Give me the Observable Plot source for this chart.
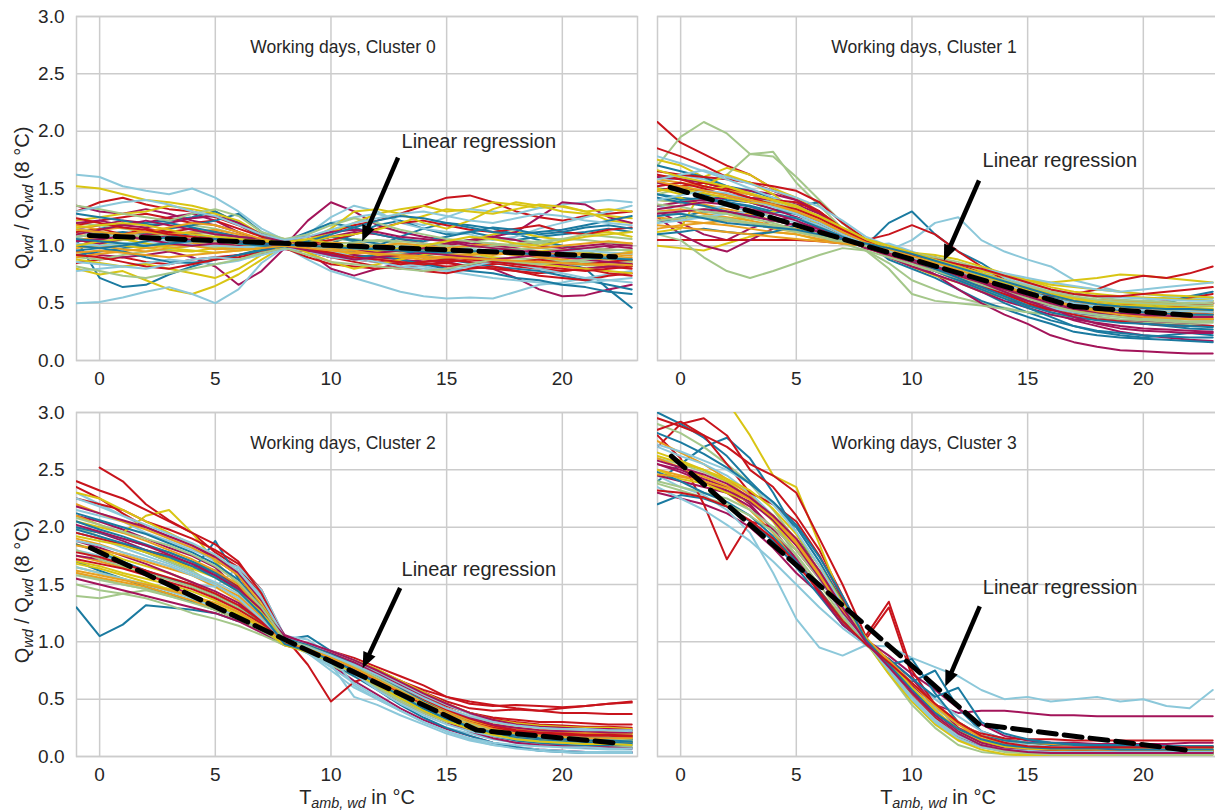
<!DOCTYPE html>
<html>
<head>
<meta charset="utf-8">
<script src="https://cdn.jsdelivr.net/npm/d3@7"></script>
<script src="https://cdn.jsdelivr.net/npm/@observablehq/plot@0.6"></script>
<style>
  html, body { margin: 0; padding: 0; background: #fff; overflow: hidden; width: 1215px; height: 810px; }
  #root { position: relative; width: 1215px; height: 810px; overflow: hidden;
          font-family: "Liberation Sans", Arial, sans-serif; color: #262626; }
  .panel { position: absolute; }
  .ylab { position: absolute; transform: translate(-50%, -50%) rotate(-90deg); white-space: nowrap; font-size: 20px; }
  .xlab { position: absolute; transform: translate(-50%, -50%); white-space: nowrap; font-size: 20px; }
  sub { font-size: 0.72em; font-style: italic; vertical-align: -0.28em; line-height: 0; }
</style>
</head>
<body>
<div id="root"></div>
<script>
// Ambient temperature grid (°C) shared by every daily profile
const temps = [-1, 0, 1, 2, 3, 4, 5, 6, 7, 8, 9, 10, 11, 12, 13, 14, 15, 16, 17, 18, 19, 20, 21, 22, 23];
const xTicks = [0, 5, 10, 15, 20];
const yTicks = [0, 0.5, 1, 1.5, 2, 2.5, 3];
const palette = ["#1a7aa0", "#c8141c", "#a3145a", "#d9c514", "#a4c78a", "#8cc8da", "#e8a020"];

// Normalised heat demand Q_wd / Q_wd(8 °C), one row per building profile
const cluster0 = [
  [1.05,0.72,0.64,0.66,0.75,0.82,0.88,0.92,0.97,1.00,1.03,1.08,1.04,0.98,0.95,0.97,1.02,1.05,0.98,0.93,0.90,0.86,0.80,0.62,0.46],
  [1.30,1.38,1.42,1.36,1.32,1.30,1.25,1.18,1.08,1.04,1.05,1.12,1.18,1.22,1.28,1.35,1.42,1.44,1.38,1.30,1.25,1.22,1.26,1.28,1.30],
  [1.15,1.18,1.22,1.20,1.25,1.28,1.22,1.12,1.05,1.00,1.22,1.38,1.30,1.18,1.12,1.08,1.05,1.02,1.00,0.98,0.95,0.92,0.94,0.98,1.02],
  [1.52,1.50,1.45,1.40,1.38,1.35,1.30,1.20,1.10,1.06,1.05,1.12,1.20,1.28,1.32,1.35,1.30,1.32,1.38,1.36,1.33,1.35,1.30,1.22,1.20],
  [1.00,1.02,1.05,1.08,1.06,1.04,1.02,1.01,1.00,1.00,0.98,0.96,0.95,0.93,0.92,0.90,0.90,0.88,0.87,0.86,0.85,0.84,0.83,0.82,0.82],
  [1.62,1.60,1.52,1.48,1.45,1.50,1.42,1.30,1.15,1.05,1.10,1.20,1.25,1.28,1.22,1.18,1.25,1.32,1.30,1.28,1.33,1.36,1.38,1.40,1.38],
  [1.10,1.12,1.08,1.05,1.10,1.06,1.02,1.00,1.01,1.00,0.98,0.95,0.93,0.95,0.92,0.90,0.88,0.90,0.88,0.86,0.85,0.87,0.84,0.83,0.85],
  [1.12,1.15,1.18,1.20,1.22,1.25,1.30,1.20,1.08,1.02,0.98,1.02,1.10,1.18,1.22,1.15,1.10,1.12,1.08,1.05,1.08,1.10,1.12,1.15,1.12],
  [0.85,0.88,0.90,0.86,0.84,0.88,0.90,0.92,0.95,0.98,0.97,0.92,0.88,0.86,0.85,0.84,0.82,0.83,0.85,0.82,0.80,0.78,0.80,0.82,0.80],
  [0.95,0.92,0.90,0.92,0.95,0.90,0.82,0.66,0.78,0.98,0.95,0.80,0.74,0.80,0.85,0.88,0.86,0.82,0.80,0.72,0.62,0.56,0.57,0.62,0.66],
  [0.80,0.75,0.78,0.70,0.62,0.58,0.65,0.75,0.88,1.00,1.05,0.98,0.92,0.88,0.90,0.95,1.00,1.05,1.10,1.12,1.08,1.05,1.10,1.12,1.08],
  [1.20,1.18,1.15,1.12,1.15,1.18,1.15,1.10,1.05,1.03,1.02,1.05,1.06,1.04,1.02,1.00,1.02,1.04,1.06,1.05,1.03,1.00,0.98,0.97,0.96],
  [0.50,0.51,0.55,0.60,0.64,0.58,0.50,0.62,0.85,0.99,0.88,0.78,0.72,0.66,0.60,0.56,0.54,0.55,0.54,0.60,0.66,0.68,0.72,0.75,0.78],
  [1.05,1.08,1.10,1.12,1.08,1.05,1.04,1.03,1.02,1.00,1.01,1.03,1.02,1.00,0.98,1.00,0.97,0.95,0.96,0.94,0.93,0.95,0.92,0.90,0.92],
  [0.92,0.95,0.98,1.00,1.03,1.05,1.08,1.04,1.02,1.01,1.02,0.98,0.95,1.00,1.08,1.15,1.20,1.18,1.15,1.10,1.05,1.00,0.95,0.90,0.88],
  [1.18,1.22,1.25,1.28,1.24,1.20,1.22,1.15,1.08,1.00,0.95,0.90,0.86,0.82,0.80,0.83,0.85,0.82,0.80,0.78,0.76,0.78,0.80,0.76,0.74],
  [1.35,1.30,1.28,1.32,1.28,1.22,1.18,1.12,1.05,1.02,1.04,1.08,1.12,1.10,1.06,1.02,1.00,1.04,1.08,1.12,1.25,1.38,1.36,1.25,1.20],
  [1.05,1.02,1.00,0.98,0.96,0.95,0.98,1.00,1.02,1.00,1.00,0.98,0.96,0.95,0.97,0.99,0.98,0.96,0.94,0.92,0.95,0.97,0.94,0.92,0.95],
  [0.90,0.88,0.92,0.95,0.97,1.00,0.98,0.96,0.98,0.99,0.99,0.97,0.96,0.94,0.93,0.92,0.93,0.91,0.90,0.89,0.88,0.87,0.86,0.85,0.86],
  [1.12,1.10,1.08,1.06,1.04,1.06,1.08,1.05,1.02,1.01,1.10,1.25,1.35,1.30,1.20,1.15,1.12,1.10,1.05,1.08,1.15,1.20,1.25,1.30,1.35],
  [0.98,1.00,0.97,0.95,0.98,1.00,0.97,0.98,0.99,1.00,0.99,0.98,0.97,0.96,0.95,0.94,0.93,0.92,0.94,0.93,0.91,0.90,0.89,0.88,0.87],
  [1.08,1.10,1.12,1.10,1.15,1.18,1.22,1.28,1.12,1.03,1.02,1.08,1.05,1.02,0.96,0.92,0.88,0.85,0.82,0.80,0.78,0.74,0.70,0.66,0.62],
  [1.00,1.05,1.10,1.15,1.12,1.10,1.12,1.08,1.04,1.00,1.02,1.05,1.10,1.15,1.20,1.22,1.18,1.14,1.12,1.15,1.18,1.12,1.10,1.14,1.16],
  [1.05,1.02,1.06,1.10,1.08,1.05,1.02,1.00,0.98,0.97,0.95,0.90,0.92,0.90,0.88,0.86,0.88,0.90,0.86,0.84,0.85,0.83,0.80,0.82,0.84],
  [1.22,1.25,1.28,1.30,1.35,1.32,1.28,1.22,1.10,1.04,1.05,1.15,1.30,1.32,1.28,1.20,1.15,1.22,1.32,1.38,1.35,1.30,1.28,1.26,1.24],
  [1.08,1.10,1.06,1.02,1.00,1.02,1.04,1.02,1.01,1.00,1.00,0.99,1.00,1.01,1.00,0.98,0.99,1.00,0.98,0.97,0.98,0.96,0.95,0.96,0.97],
  [0.78,0.80,0.82,0.85,0.88,0.86,0.84,0.87,0.93,0.98,0.95,0.90,0.88,0.86,0.84,0.82,0.78,0.75,0.72,0.70,0.68,0.66,0.68,0.70,0.72],
  [0.90,0.93,0.95,0.98,1.00,1.02,1.00,0.99,1.00,1.00,0.98,1.00,0.97,0.95,0.96,0.98,0.95,0.94,0.92,0.94,0.95,0.93,0.90,0.88,0.90],
  [1.00,0.98,0.95,0.90,0.86,0.85,0.88,0.92,0.96,0.99,0.97,0.93,0.90,0.92,0.88,0.84,0.80,0.78,0.76,0.72,0.70,0.66,0.64,0.60,0.58],
  [1.12,1.15,1.10,1.08,1.12,1.15,1.10,1.06,1.03,1.01,0.96,0.94,0.90,0.86,0.84,0.86,0.88,0.86,0.84,0.86,0.88,0.85,0.84,0.86,0.88],
  [1.20,1.22,1.18,1.16,1.20,1.24,1.26,1.20,1.10,1.03,1.02,1.00,0.96,0.94,0.96,0.98,1.02,1.05,1.08,1.05,1.00,0.98,1.00,1.02,1.00],
  [0.88,0.85,0.82,0.84,0.80,0.76,0.72,0.80,0.92,1.00,1.04,1.08,1.10,1.14,1.20,1.26,1.32,1.30,1.28,1.32,1.36,1.34,1.30,1.32,1.30],
  [1.15,1.12,1.10,1.08,1.10,1.12,1.10,1.06,1.03,1.01,0.99,1.01,1.03,1.05,1.04,1.02,1.00,0.98,1.00,1.02,1.04,1.06,1.05,1.03,1.02],
  [1.02,1.00,1.02,1.04,1.03,1.01,1.00,0.99,0.99,1.00,1.00,0.98,0.97,0.98,0.99,1.00,0.98,0.97,0.96,0.95,0.94,0.95,0.96,0.94,0.93],
  [1.18,1.14,1.16,1.12,1.10,1.12,1.14,1.10,1.05,1.02,0.98,0.96,0.98,1.00,1.02,1.00,0.98,1.00,1.02,1.00,0.98,1.00,1.02,1.04,1.02],
  [1.28,1.25,1.22,1.18,1.20,1.16,1.12,1.08,1.06,1.04,1.12,1.20,1.16,1.10,1.06,1.04,1.08,1.12,1.16,1.14,1.10,1.12,1.16,1.18,1.15],
  [0.92,0.90,0.86,0.82,0.80,0.84,0.88,0.90,0.94,0.98,0.90,0.84,0.82,0.80,0.82,0.78,0.76,0.80,0.82,0.78,0.74,0.72,0.70,0.74,0.76],
  [1.10,1.14,1.18,1.22,1.18,1.14,1.10,1.08,1.06,1.05,1.08,1.12,1.14,1.12,1.08,1.06,1.04,1.00,0.98,0.96,0.94,0.96,0.98,1.00,0.98],
  [1.00,1.04,1.06,1.02,0.98,0.96,0.94,0.96,0.98,1.02,0.94,0.86,0.80,0.84,0.88,0.92,0.96,0.94,0.90,0.86,0.84,0.82,0.80,0.78,0.76],
  [1.35,1.32,1.28,1.25,1.22,1.28,1.32,1.26,1.12,1.06,1.10,1.18,1.24,1.20,1.14,1.10,1.06,1.04,1.02,1.00,1.02,1.06,1.10,1.08,1.06],
  [0.86,0.84,0.82,0.80,0.84,0.88,0.90,0.88,0.92,0.97,1.00,0.96,0.90,0.86,0.82,0.80,0.78,0.82,0.86,0.84,0.80,0.76,0.72,0.70,0.68],
  [1.14,1.12,1.10,1.12,1.16,1.20,1.18,1.12,1.06,1.02,1.00,0.98,0.96,0.92,0.90,0.88,0.90,0.92,0.94,0.92,0.90,0.88,0.90,0.92,0.94],
  [0.96,0.98,1.00,1.04,1.08,1.10,1.06,1.02,1.00,0.99,1.04,1.10,1.16,1.22,1.26,1.24,1.20,1.16,1.12,1.10,1.12,1.14,1.18,1.22,1.26],
  [1.24,1.20,1.16,1.14,1.10,1.08,1.06,1.04,1.03,1.02,0.98,0.94,0.90,0.88,0.86,0.84,0.86,0.88,0.86,0.84,0.82,0.80,0.78,0.80,0.82],
  [1.04,1.06,1.08,1.06,1.02,1.00,1.02,1.04,1.02,1.00,0.96,0.92,0.88,0.90,0.92,0.94,0.92,0.90,0.88,0.90,0.92,0.90,0.88,0.86,0.84],
  [1.16,1.18,1.20,1.18,1.14,1.10,1.08,1.06,1.04,1.03,1.06,1.02,0.98,0.96,0.98,1.00,1.04,1.08,1.06,1.02,1.00,1.04,1.08,1.10,1.12],
  [0.82,0.78,0.74,0.72,0.76,0.80,0.84,0.88,0.94,0.98,0.92,0.86,0.84,0.82,0.80,0.78,0.80,0.84,0.88,0.86,0.84,0.86,0.88,0.90,0.88],
  [1.30,1.34,1.38,1.40,1.36,1.30,1.26,1.18,1.10,1.05,1.08,1.14,1.20,1.24,1.28,1.30,1.26,1.22,1.20,1.24,1.28,1.26,1.22,1.20,1.18],
  [0.94,0.96,0.94,0.92,0.90,0.92,0.94,0.96,0.98,1.00,0.98,0.96,0.94,0.93,0.92,0.91,0.90,0.89,0.88,0.87,0.86,0.85,0.84,0.84,0.83],
  [1.06,1.04,1.02,1.00,1.02,1.04,1.06,1.04,1.02,1.01,1.00,0.99,0.98,0.97,0.96,0.95,0.94,0.95,0.96,0.94,0.92,0.91,0.90,0.89,0.88]
];

const cluster1 = [
  [1.45,1.42,1.40,1.38,1.35,1.30,1.28,1.20,1.10,1.00,1.20,1.30,1.10,0.95,0.85,0.72,0.62,0.50,0.42,0.38,0.35,0.32,0.30,0.28,0.27],
  [2.08,1.90,1.80,1.70,1.62,1.50,1.40,1.28,1.12,1.03,0.92,0.85,0.78,0.70,0.62,0.55,0.48,0.44,0.42,0.40,0.42,0.40,0.38,0.40,0.42],
  [1.30,1.20,1.10,1.05,1.15,1.22,1.25,1.18,1.08,0.98,0.95,0.88,0.80,0.72,0.65,0.58,0.50,0.42,0.35,0.30,0.25,0.22,0.20,0.18,0.17],
  [1.00,0.98,0.96,1.02,1.08,1.12,1.10,1.05,1.02,1.00,0.98,0.90,0.85,0.80,0.72,0.66,0.60,0.58,0.55,0.52,0.50,0.52,0.55,0.54,0.52],
  [1.70,1.95,2.08,1.98,1.80,1.82,1.55,1.35,1.15,0.96,0.85,0.70,0.62,0.55,0.50,0.46,0.42,0.40,0.38,0.36,0.35,0.33,0.32,0.30,0.30],
  [1.55,1.60,1.55,1.50,1.42,1.38,1.30,1.20,1.10,1.02,0.96,1.05,1.20,1.25,1.05,0.95,0.88,0.82,0.70,0.65,0.60,0.58,0.56,0.55,0.54],
  [1.40,1.38,1.36,1.32,1.28,1.22,1.18,1.12,1.05,1.00,0.95,0.90,0.82,0.75,0.68,0.62,0.55,0.50,0.48,0.46,0.44,0.42,0.43,0.42,0.41],
  [1.20,1.25,1.30,1.28,1.25,1.30,1.35,1.38,1.20,1.04,0.88,0.80,0.72,0.62,0.52,0.45,0.38,0.32,0.25,0.22,0.20,0.19,0.18,0.17,0.16],
  [1.05,1.05,1.05,1.05,1.05,1.05,1.05,1.04,1.02,1.00,0.92,0.86,0.80,0.72,0.64,0.56,0.50,0.46,0.44,0.42,0.40,0.38,0.37,0.36,0.36],
  [1.25,1.10,1.00,0.95,1.05,1.15,1.20,1.15,1.08,0.98,0.92,0.85,0.75,0.62,0.50,0.40,0.32,0.22,0.16,0.12,0.09,0.08,0.07,0.06,0.06],
  [1.75,1.70,1.60,1.68,1.62,1.50,1.42,1.30,1.15,1.02,0.92,0.88,0.84,0.80,0.76,0.72,0.70,0.68,0.70,0.72,0.75,0.74,0.72,0.70,0.68],
  [1.45,1.50,1.55,1.62,1.80,1.78,1.60,1.40,1.20,1.04,0.90,0.82,0.78,0.72,0.68,0.64,0.60,0.58,0.55,0.52,0.50,0.48,0.47,0.46,0.45],
  [1.60,1.62,1.58,1.52,1.45,1.38,1.28,1.15,1.05,1.00,1.02,0.95,0.88,0.82,0.78,0.72,0.66,0.60,0.55,0.52,0.50,0.52,0.54,0.56,0.55],
  [1.15,1.18,1.20,1.22,1.20,1.15,1.12,1.08,1.04,1.00,0.94,0.88,0.82,0.76,0.70,0.64,0.58,0.54,0.50,0.48,0.47,0.46,0.45,0.44,0.44],
  [1.70,1.65,1.60,1.52,1.48,1.42,1.35,1.25,1.12,1.01,0.95,0.88,0.80,0.70,0.60,0.50,0.42,0.35,0.30,0.26,0.24,0.22,0.21,0.20,0.20],
  [1.85,1.78,1.70,1.60,1.55,1.48,1.40,1.30,1.15,1.05,1.10,1.18,1.10,0.95,0.82,0.70,0.62,0.56,0.52,0.50,0.48,0.50,0.52,0.55,0.58],
  [1.60,1.58,1.55,1.50,1.48,1.45,1.40,1.30,1.12,1.00,0.95,0.90,0.85,0.78,0.70,0.62,0.55,0.48,0.42,0.38,0.35,0.34,0.33,0.32,0.30],
  [1.40,1.42,1.35,1.28,1.22,1.30,1.35,1.20,1.08,0.99,0.92,0.82,0.74,0.68,0.60,0.55,0.50,0.46,0.44,0.42,0.40,0.39,0.38,0.38,0.37],
  [1.10,1.05,0.90,0.78,0.72,0.78,0.85,0.92,0.98,0.96,0.80,0.58,0.52,0.50,0.48,0.45,0.42,0.40,0.38,0.36,0.34,0.33,0.32,0.31,0.30],
  [1.35,1.30,1.32,1.35,1.30,1.25,1.20,1.12,1.05,1.00,0.96,0.92,0.86,0.80,0.74,0.68,0.62,0.56,0.50,0.45,0.42,0.40,0.38,0.36,0.35],
  [1.30,1.32,1.28,1.25,1.22,1.18,1.15,1.10,1.05,1.01,0.96,0.90,0.84,0.78,0.72,0.66,0.60,0.56,0.52,0.50,0.48,0.47,0.46,0.45,0.44],
  [1.50,1.48,1.45,1.40,1.38,1.32,1.28,1.20,1.10,1.00,0.94,0.88,0.82,0.75,0.68,0.60,0.52,0.46,0.42,0.40,0.42,0.45,0.50,0.56,0.60],
  [1.65,1.62,1.60,1.58,1.55,1.52,1.48,1.38,1.20,1.06,0.92,0.86,0.80,0.74,0.68,0.62,0.58,0.56,0.58,0.62,0.70,0.74,0.72,0.76,0.82],
  [1.55,1.50,1.48,1.45,1.42,1.40,1.36,1.28,1.15,1.00,0.90,0.82,0.75,0.68,0.60,0.52,0.46,0.40,0.36,0.33,0.30,0.28,0.27,0.26,0.25],
  [1.12,1.15,1.52,1.62,1.55,1.45,1.30,1.18,1.08,1.02,0.95,0.90,0.86,0.82,0.78,0.74,0.70,0.66,0.64,0.62,0.60,0.58,0.57,0.56,0.55],
  [1.40,1.38,1.42,1.45,1.40,1.38,1.32,1.22,1.10,1.00,0.94,0.86,0.78,0.70,0.62,0.56,0.50,0.45,0.40,0.38,0.36,0.35,0.34,0.33,0.33],
  [1.78,1.72,1.65,1.58,1.50,1.42,1.35,1.25,1.12,1.03,0.94,0.85,0.78,0.72,0.65,0.58,0.52,0.46,0.42,0.40,0.38,0.37,0.36,0.36,0.35],
  [1.25,1.22,1.20,1.18,1.15,1.12,1.10,1.06,1.03,1.00,0.96,0.92,0.86,0.80,0.74,0.68,0.62,0.58,0.55,0.53,0.52,0.51,0.50,0.50,0.49],
  [1.10,1.12,1.15,1.12,1.10,1.12,1.18,1.12,1.05,0.99,0.94,0.86,0.78,0.70,0.62,0.54,0.46,0.38,0.30,0.25,0.22,0.20,0.22,0.24,0.22],
  [1.48,1.52,1.55,1.50,1.45,1.40,1.38,1.30,1.15,1.02,0.98,0.94,0.90,0.84,0.76,0.68,0.60,0.54,0.50,0.48,0.46,0.45,0.46,0.48,0.50],
  [1.35,1.38,1.40,1.42,1.38,1.32,1.25,1.15,1.06,1.00,0.94,0.88,0.80,0.72,0.65,0.58,0.52,0.48,0.45,0.42,0.40,0.38,0.40,0.42,0.40],
  [1.50,1.45,1.48,1.52,1.45,1.40,1.35,1.25,1.10,1.01,0.96,0.94,0.92,0.88,0.82,0.76,0.70,0.64,0.60,0.58,0.56,0.55,0.54,0.53,0.52],
  [1.30,1.28,1.25,1.22,1.20,1.18,1.14,1.10,1.04,1.00,0.98,0.94,0.90,0.86,0.80,0.74,0.68,0.62,0.58,0.55,0.53,0.52,0.51,0.50,0.50],
  [1.20,1.22,1.25,1.28,1.30,1.28,1.24,1.18,1.08,1.02,0.97,0.93,0.88,0.84,0.80,0.76,0.72,0.68,0.65,0.62,0.60,0.62,0.64,0.66,0.68],
  [1.58,1.55,1.52,1.48,1.45,1.40,1.34,1.24,1.12,1.00,0.94,0.86,0.80,0.74,0.68,0.62,0.56,0.52,0.48,0.45,0.43,0.42,0.41,0.40,0.40],
  [1.42,1.38,1.35,1.30,1.26,1.22,1.18,1.12,1.06,1.02,0.96,0.90,0.84,0.78,0.72,0.66,0.60,0.55,0.50,0.46,0.44,0.42,0.41,0.40,0.40],
  [1.62,1.58,1.52,1.48,1.42,1.36,1.30,1.20,1.10,1.04,0.98,0.90,0.82,0.74,0.66,0.58,0.50,0.44,0.40,0.36,0.34,0.32,0.31,0.30,0.30],
  [1.28,1.30,1.32,1.30,1.26,1.22,1.18,1.12,1.06,0.98,0.92,0.86,0.80,0.74,0.68,0.62,0.56,0.50,0.46,0.43,0.41,0.40,0.39,0.38,0.38],
  [1.48,1.50,1.46,1.42,1.38,1.35,1.30,1.22,1.12,1.05,0.98,0.92,0.86,0.80,0.74,0.68,0.62,0.58,0.54,0.52,0.50,0.49,0.48,0.48,0.47],
  [1.36,1.34,1.30,1.28,1.24,1.20,1.14,1.08,1.02,0.96,0.90,0.84,0.78,0.72,0.66,0.60,0.54,0.48,0.43,0.40,0.38,0.36,0.35,0.34,0.34],
  [1.58,1.62,1.66,1.60,1.54,1.48,1.42,1.34,1.22,1.08,1.00,0.94,0.88,0.82,0.76,0.70,0.64,0.60,0.58,0.56,0.55,0.54,0.53,0.52,0.52],
  [1.18,1.16,1.14,1.12,1.10,1.08,1.06,1.04,1.02,1.00,0.98,0.94,0.88,0.82,0.76,0.70,0.64,0.58,0.52,0.48,0.46,0.44,0.43,0.42,0.42],
  [1.45,1.40,1.42,1.38,1.34,1.28,1.24,1.16,1.08,1.02,0.96,0.88,0.80,0.72,0.64,0.56,0.48,0.42,0.38,0.35,0.33,0.32,0.31,0.30,0.29],
  [1.52,1.55,1.50,1.44,1.40,1.36,1.32,1.24,1.14,1.04,0.96,0.92,0.88,0.84,0.80,0.74,0.68,0.62,0.58,0.56,0.56,0.58,0.60,0.62,0.64],
  [1.32,1.35,1.38,1.36,1.32,1.28,1.22,1.14,1.06,1.00,0.94,0.88,0.82,0.76,0.68,0.60,0.52,0.45,0.38,0.32,0.28,0.26,0.25,0.24,0.24],
  [1.66,1.60,1.56,1.52,1.46,1.40,1.34,1.26,1.16,1.06,1.00,0.94,0.88,0.82,0.76,0.70,0.64,0.58,0.54,0.50,0.48,0.47,0.46,0.46,0.45],
  [1.22,1.24,1.26,1.24,1.20,1.16,1.12,1.08,1.04,1.00,0.95,0.90,0.85,0.80,0.75,0.70,0.65,0.60,0.56,0.53,0.51,0.50,0.49,0.48,0.48],
  [1.40,1.44,1.48,1.46,1.40,1.34,1.28,1.20,1.10,1.02,0.96,0.90,0.84,0.78,0.72,0.66,0.60,0.54,0.50,0.47,0.45,0.44,0.43,0.43,0.42],
  [1.56,1.52,1.48,1.44,1.40,1.36,1.30,1.22,1.12,1.03,0.97,0.91,0.85,0.79,0.72,0.65,0.58,0.52,0.47,0.43,0.40,0.38,0.37,0.36,0.36],
  [1.26,1.28,1.24,1.20,1.18,1.16,1.14,1.10,1.06,1.02,0.98,0.93,0.87,0.81,0.75,0.69,0.63,0.57,0.52,0.49,0.47,0.46,0.45,0.45,0.44]
];

const cluster2 = [
  [1.30,1.05,1.15,1.32,1.30,1.28,1.25,1.18,1.10,1.00,0.92,0.84,0.74,0.62,0.52,0.42,0.32,0.24,0.18,0.14,0.12,0.10,0.09,0.08,0.08],
  [null,2.52,2.40,2.20,2.06,1.95,1.78,1.65,1.40,1.04,0.98,0.90,0.82,0.75,0.66,0.56,0.48,0.42,0.40,0.41,0.40,0.42,0.44,0.46,0.48],
  [2.10,2.05,1.98,1.90,1.82,1.75,1.65,1.45,1.25,1.02,0.92,0.82,0.72,0.60,0.48,0.38,0.30,0.24,0.20,0.18,0.17,0.16,0.15,0.15,0.14],
  [1.85,1.80,1.72,1.66,1.60,1.52,1.42,1.30,1.18,1.00,0.95,0.88,0.78,0.66,0.55,0.44,0.35,0.28,0.22,0.20,0.18,0.17,0.16,0.15,0.15],
  [1.40,1.38,1.42,1.45,1.40,1.35,1.28,1.20,1.10,0.98,0.94,0.86,0.76,0.64,0.52,0.40,0.30,0.22,0.16,0.12,0.10,0.09,0.08,0.08,0.08],
  [2.30,2.20,2.10,2.00,1.90,1.82,1.70,1.62,1.40,1.03,0.90,0.75,0.60,0.50,0.40,0.32,0.25,0.20,0.15,0.12,0.10,0.08,0.07,0.06,0.06],
  [1.75,1.70,1.65,1.60,1.55,1.48,1.40,1.30,1.15,1.00,0.94,0.86,0.78,0.68,0.58,0.48,0.40,0.32,0.26,0.22,0.20,0.19,0.18,0.18,0.17],
  [1.95,1.90,1.85,1.78,1.70,1.62,1.88,1.55,1.20,1.02,1.05,0.92,0.80,0.68,0.55,0.42,0.32,0.24,0.18,0.14,0.12,0.11,0.10,0.10,0.10],
  [2.35,2.25,2.12,2.00,1.92,1.85,1.72,1.58,1.30,1.01,0.95,0.90,0.82,0.72,0.62,0.52,0.44,0.38,0.34,0.32,0.30,0.30,0.29,0.28,0.28],
  [1.55,1.50,1.45,1.40,1.35,1.30,1.25,1.18,1.08,0.97,0.92,0.80,0.66,0.54,0.42,0.32,0.24,0.18,0.12,0.08,0.06,0.05,0.04,0.04,0.04],
  [2.05,2.00,1.95,2.10,2.15,1.95,1.70,1.50,1.25,1.00,0.95,0.88,0.80,0.70,0.58,0.48,0.38,0.30,0.25,0.22,0.20,0.19,0.18,0.18,0.17],
  [1.60,1.55,1.50,1.46,1.42,1.36,1.30,1.22,1.12,0.99,0.90,0.80,0.70,0.60,0.50,0.40,0.32,0.26,0.22,0.20,0.18,0.17,0.16,0.16,0.15],
  [2.15,2.10,2.05,1.95,1.88,1.80,1.72,1.65,1.45,1.02,0.92,0.80,0.52,0.45,0.36,0.28,0.20,0.14,0.10,0.08,0.06,0.05,0.04,0.04,0.04],
  [1.90,1.85,1.78,1.72,1.66,1.58,1.48,1.36,1.20,1.00,0.96,0.90,0.82,0.72,0.62,0.52,0.42,0.34,0.28,0.24,0.22,0.21,0.20,0.20,0.19],
  [1.70,1.62,1.55,1.48,1.42,1.35,1.28,1.20,1.10,0.98,0.92,0.82,0.70,0.58,0.45,0.34,0.25,0.18,0.12,0.08,0.05,0.04,0.03,0.03,0.03],
  [2.25,2.20,2.15,2.05,1.98,1.90,1.80,1.68,1.45,1.04,0.80,0.48,0.65,0.72,0.66,0.58,0.52,0.48,0.45,0.42,0.40,0.38,0.38,0.37,0.37],
  [2.00,1.95,1.88,1.80,1.72,1.66,1.58,1.45,1.25,1.01,0.94,0.86,0.76,0.64,0.52,0.40,0.30,0.22,0.16,0.12,0.10,0.09,0.08,0.08,0.07],
  [1.65,1.60,1.55,1.50,1.46,1.40,1.32,1.24,1.12,1.00,0.94,0.88,0.80,0.70,0.60,0.50,0.42,0.35,0.30,0.27,0.25,0.24,0.23,0.22,0.22],
  [2.00,1.92,1.85,1.78,1.70,1.62,1.50,1.38,1.20,0.99,0.92,0.82,0.72,0.60,0.48,0.38,0.30,0.26,0.24,0.23,0.22,0.22,0.21,0.21,0.20],
  [1.80,1.75,1.70,1.62,1.55,1.50,1.48,1.65,1.45,1.05,1.02,0.88,0.62,0.50,0.40,0.30,0.22,0.15,0.10,0.07,0.05,0.04,0.03,0.03,0.03],
  [2.20,2.12,2.05,1.98,1.90,1.82,1.72,1.58,1.32,1.02,0.94,0.84,0.74,0.64,0.54,0.44,0.36,0.30,0.26,0.24,0.23,0.22,0.22,0.21,0.21],
  [1.85,1.78,1.70,1.62,1.55,1.48,1.40,1.30,1.16,1.00,0.95,0.88,0.80,0.70,0.58,0.46,0.36,0.28,0.24,0.22,0.20,0.19,0.18,0.18,0.18],
  [2.40,2.32,2.25,2.15,2.05,1.95,1.85,1.70,1.42,1.03,0.96,0.92,0.86,0.78,0.70,0.62,0.52,0.46,0.44,0.45,0.44,0.43,0.44,0.46,0.47],
  [1.75,1.72,1.68,1.62,1.50,1.40,1.30,1.22,1.12,0.98,0.94,0.86,0.76,0.66,0.55,0.44,0.34,0.26,0.20,0.16,0.14,0.13,0.12,0.12,0.12],
  [2.30,2.25,2.15,2.05,1.95,1.85,1.75,1.60,1.35,1.02,0.96,0.90,0.84,0.76,0.66,0.56,0.46,0.38,0.32,0.28,0.26,0.25,0.24,0.24,0.23],
  [1.50,1.45,1.42,1.38,1.32,1.25,1.20,1.14,1.06,0.97,0.94,0.84,0.74,0.62,0.50,0.40,0.32,0.26,0.22,0.20,0.19,0.18,0.17,0.17,0.16],
  [1.95,1.90,1.82,1.75,1.68,1.60,1.52,1.42,1.22,1.00,0.90,0.78,0.64,0.52,0.40,0.30,0.22,0.16,0.12,0.10,0.09,0.08,0.08,0.07,0.07],
  [1.60,1.56,1.52,1.48,1.42,1.36,1.28,1.20,1.10,1.00,0.94,0.86,0.78,0.68,0.58,0.48,0.40,0.33,0.28,0.25,0.23,0.22,0.21,0.21,0.20],
  [2.05,1.98,1.92,1.85,1.78,1.70,1.62,1.48,1.26,1.01,0.94,0.86,0.78,0.68,0.56,0.44,0.34,0.26,0.20,0.16,0.14,0.13,0.12,0.12,0.11],
  [1.95,1.90,1.85,1.80,1.75,1.68,1.60,1.48,1.25,1.00,0.95,0.90,0.82,0.74,0.64,0.54,0.45,0.38,0.33,0.30,0.28,0.27,0.26,0.26,0.25],
  [1.88,1.82,1.75,1.68,1.60,1.52,1.44,1.34,1.18,1.00,0.93,0.85,0.75,0.64,0.53,0.42,0.33,0.26,0.21,0.18,0.16,0.15,0.14,0.14,0.13],
  [1.70,1.66,1.60,1.55,1.50,1.44,1.36,1.26,1.14,1.01,0.95,0.90,0.84,0.76,0.66,0.56,0.46,0.38,0.32,0.29,0.27,0.26,0.25,0.25,0.24],
  [1.80,1.72,1.66,1.60,1.54,1.48,1.40,1.30,1.15,0.99,0.93,0.85,0.75,0.64,0.52,0.41,0.32,0.25,0.20,0.17,0.15,0.14,0.14,0.13,0.13],
  [1.65,1.60,1.55,1.50,1.44,1.38,1.30,1.22,1.12,1.00,0.92,0.82,0.72,0.58,0.46,0.36,0.28,0.22,0.18,0.15,0.13,0.12,0.11,0.11,0.10],
  [2.10,2.02,1.95,1.88,1.80,1.72,1.62,1.50,1.28,1.02,0.95,0.88,0.80,0.70,0.60,0.50,0.40,0.32,0.27,0.24,0.22,0.21,0.20,0.20,0.20],
  [2.00,1.95,1.90,1.84,1.78,1.70,1.60,1.46,1.24,1.02,0.96,0.88,0.78,0.66,0.54,0.42,0.32,0.25,0.20,0.17,0.15,0.14,0.13,0.13,0.12],
  [1.78,1.74,1.68,1.62,1.56,1.50,1.42,1.32,1.18,1.04,0.96,0.88,0.80,0.70,0.60,0.50,0.41,0.33,0.27,0.23,0.21,0.20,0.19,0.19,0.18],
  [2.18,2.12,2.06,2.00,1.92,1.84,1.74,1.60,1.36,1.06,0.98,0.90,0.82,0.72,0.62,0.52,0.42,0.34,0.28,0.25,0.23,0.22,0.22,0.21,0.21],
  [1.92,1.88,1.84,1.78,1.72,1.64,1.56,1.44,1.26,1.02,0.94,0.86,0.76,0.65,0.54,0.43,0.34,0.27,0.22,0.19,0.17,0.16,0.15,0.15,0.15],
  [1.58,1.54,1.50,1.46,1.40,1.34,1.28,1.20,1.10,0.98,0.92,0.84,0.75,0.64,0.53,0.43,0.34,0.27,0.22,0.19,0.17,0.16,0.15,0.15,0.14],
  [2.25,2.18,2.10,2.02,1.94,1.86,1.76,1.62,1.38,1.04,0.98,0.92,0.84,0.74,0.64,0.54,0.45,0.37,0.31,0.27,0.25,0.24,0.23,0.23,0.22],
  [1.84,1.80,1.76,1.70,1.64,1.58,1.50,1.40,1.22,1.00,0.95,0.87,0.78,0.67,0.56,0.45,0.36,0.28,0.22,0.18,0.16,0.15,0.14,0.14,0.13],
  [2.12,2.06,2.00,1.94,1.86,1.78,1.68,1.54,1.30,1.03,0.97,0.89,0.80,0.70,0.59,0.48,0.38,0.30,0.24,0.20,0.18,0.17,0.16,0.16,0.15],
  [1.72,1.68,1.64,1.58,1.52,1.46,1.38,1.28,1.16,0.99,0.93,0.85,0.76,0.66,0.56,0.46,0.37,0.30,0.25,0.22,0.20,0.19,0.18,0.18,0.17],
  [2.02,1.96,1.90,1.84,1.76,1.68,1.58,1.46,1.28,1.05,0.99,0.92,0.84,0.75,0.65,0.55,0.46,0.38,0.32,0.28,0.26,0.25,0.24,0.24,0.23],
  [1.68,1.64,1.58,1.52,1.46,1.40,1.32,1.24,1.12,0.97,0.91,0.83,0.73,0.62,0.51,0.40,0.31,0.24,0.19,0.15,0.13,0.12,0.11,0.11,0.10],
  [2.08,2.02,1.96,1.90,1.84,1.76,1.66,1.52,1.30,1.02,0.96,0.88,0.79,0.69,0.58,0.47,0.37,0.29,0.23,0.19,0.17,0.16,0.15,0.15,0.14],
  [1.88,1.84,1.78,1.72,1.66,1.58,1.50,1.38,1.20,1.01,0.95,0.88,0.80,0.71,0.61,0.51,0.42,0.35,0.30,0.27,0.25,0.24,0.24,0.23,0.23],
  [1.62,1.58,1.54,1.50,1.45,1.40,1.34,1.26,1.14,1.00,0.94,0.86,0.77,0.67,0.57,0.47,0.38,0.30,0.24,0.20,0.18,0.17,0.16,0.16,0.16],
  [1.98,1.92,1.86,1.80,1.74,1.66,1.56,1.44,1.24,0.98,0.92,0.84,0.75,0.64,0.53,0.42,0.33,0.26,0.21,0.18,0.16,0.15,0.14,0.14,0.13]
];

const cluster3 = [
  [2.40,2.55,2.70,2.78,2.60,2.30,1.95,1.60,1.25,1.00,0.78,0.52,0.30,0.16,0.10,0.08,0.07,0.06,0.06,0.05,0.05,0.05,0.05,0.04,0.04],
  [2.70,2.90,2.95,2.80,2.50,2.35,2.10,1.80,1.40,1.02,1.30,0.70,0.40,0.22,0.12,0.08,0.06,0.05,0.05,0.04,0.04,0.04,0.04,0.04,0.04],
  [2.30,2.25,2.20,2.12,2.00,1.82,1.60,1.42,1.20,0.98,0.80,0.62,0.45,0.38,0.40,0.40,0.38,0.36,0.36,0.35,0.35,0.35,0.35,0.35,0.35],
  [null,null,3.30,3.10,2.80,2.45,2.35,1.85,1.35,1.02,0.82,0.60,0.40,0.22,0.12,0.05,0.02,0.01,0.00,0.00,0.00,0.00,0.00,0.00,0.00],
  [2.60,2.55,2.48,2.40,2.30,2.05,1.75,1.45,1.20,1.00,0.72,0.45,0.25,0.10,0.04,0.02,0.01,0.00,0.00,0.00,0.00,0.00,0.00,0.00,0.00],
  [2.45,2.35,2.28,2.15,1.95,1.60,1.20,0.95,0.88,0.97,0.96,0.86,0.78,0.70,0.58,0.50,0.52,0.48,0.50,0.52,0.48,0.50,0.44,0.42,0.58],
  [2.50,2.45,2.40,2.30,2.15,1.95,1.70,1.45,1.20,1.01,0.78,0.52,0.30,0.15,0.08,0.05,0.04,0.03,0.03,0.03,0.02,0.02,0.02,0.02,0.02],
  [2.20,2.28,2.25,2.18,2.05,1.88,1.65,1.40,1.15,0.99,0.82,0.65,0.75,0.42,0.22,0.15,0.12,0.10,0.10,0.09,0.09,0.08,0.08,0.08,0.08],
  [2.80,2.60,2.20,1.72,2.05,2.00,1.80,1.55,1.25,1.00,0.80,0.58,0.35,0.20,0.12,0.08,0.06,0.05,0.05,0.05,0.05,0.05,0.05,0.05,0.05],
  [2.55,2.50,2.42,2.35,2.20,1.98,1.72,1.45,1.18,1.02,0.88,0.72,0.58,0.42,0.28,0.18,0.14,0.12,0.12,0.11,0.11,0.11,0.11,0.12,0.12],
  [2.65,2.58,2.50,2.40,2.25,2.05,1.80,1.62,1.30,1.03,0.80,0.58,0.36,0.20,0.12,0.08,0.06,0.05,0.04,0.04,0.04,0.04,0.04,0.03,0.03],
  [2.90,2.82,2.70,2.55,2.38,2.15,1.88,1.62,1.30,1.00,0.75,0.50,0.30,0.16,0.08,0.04,0.03,0.02,0.02,0.02,0.02,0.02,0.02,0.02,0.02],
  [2.35,2.25,2.15,2.02,1.88,1.70,1.50,1.30,1.12,0.97,0.85,0.68,0.50,0.35,0.22,0.14,0.10,0.08,0.07,0.06,0.06,0.06,0.06,0.06,0.06],
  [2.75,2.65,2.55,2.42,2.28,2.10,1.85,1.58,1.28,1.00,0.76,0.55,0.38,0.25,0.18,0.14,0.12,0.11,0.10,0.10,0.10,0.10,0.09,0.09,0.09],
  [3.00,2.90,2.78,2.62,2.40,2.20,2.00,1.70,1.35,1.04,0.80,0.85,0.55,0.30,0.18,0.14,0.12,0.12,0.11,0.10,0.10,0.09,0.09,0.09,0.09],
  [2.95,2.88,2.80,2.70,2.55,2.45,2.30,1.90,1.50,1.05,1.35,0.75,0.45,0.28,0.20,0.16,0.15,0.15,0.14,0.14,0.14,0.14,0.14,0.14,0.14],
  [2.45,2.40,2.35,2.30,2.18,1.98,1.72,1.42,1.15,0.99,0.85,0.68,0.45,0.25,0.14,0.10,0.08,0.07,0.06,0.06,0.06,0.06,0.06,0.06,0.05],
  [2.50,2.42,2.38,2.30,2.22,2.10,1.90,1.62,1.30,1.00,0.72,0.48,0.28,0.14,0.06,0.02,0.01,0.00,0.00,0.00,0.00,0.00,0.00,0.00,0.00],
  [2.40,2.35,2.30,2.25,2.15,2.00,1.80,1.55,1.25,1.01,0.80,0.60,0.42,0.28,0.18,0.12,0.08,0.05,0.03,0.02,0.02,0.02,0.02,0.02,0.02],
  [2.70,2.62,2.55,2.45,2.30,2.10,1.85,1.55,1.25,1.00,0.75,0.50,0.30,0.16,0.08,0.05,0.04,0.03,0.03,0.03,0.02,0.02,0.02,0.02,0.02],
  [2.60,2.52,2.44,2.36,2.25,2.10,1.88,1.60,1.28,1.02,0.82,0.64,0.46,0.30,0.18,0.10,0.06,0.04,0.03,0.03,0.03,0.03,0.03,0.03,0.03],
  [2.48,2.40,2.30,2.22,2.10,1.92,1.70,1.45,1.18,0.98,0.85,0.68,0.52,0.60,0.30,0.20,0.15,0.12,0.10,0.10,0.10,0.10,0.09,0.09,0.09],
  [2.85,2.92,2.80,2.55,2.30,2.20,2.05,1.75,1.38,1.03,0.78,0.55,0.34,0.18,0.10,0.06,0.05,0.05,0.04,0.04,0.04,0.04,0.04,0.04,0.04],
  [2.55,2.48,2.40,2.32,2.22,2.06,1.84,1.56,1.26,1.02,0.80,0.58,0.38,0.22,0.12,0.07,0.05,0.04,0.04,0.04,0.04,0.04,0.04,0.04,0.04],
  [2.62,2.56,2.50,2.42,2.32,2.16,1.94,1.66,1.34,1.04,0.82,0.60,0.40,0.24,0.14,0.09,0.07,0.06,0.06,0.06,0.06,0.06,0.06,0.05,0.05],
  [2.38,2.32,2.26,2.20,2.10,1.96,1.76,1.50,1.22,0.98,0.78,0.56,0.36,0.20,0.10,0.05,0.03,0.02,0.02,0.02,0.02,0.02,0.02,0.02,0.02],
  [2.72,2.66,2.58,2.50,2.38,2.20,1.96,1.66,1.32,1.00,0.76,0.52,0.32,0.18,0.10,0.06,0.05,0.04,0.04,0.04,0.04,0.04,0.04,0.04,0.04],
  [2.46,2.44,2.40,2.34,2.24,2.08,1.86,1.58,1.28,1.03,0.84,0.64,0.44,0.28,0.16,0.10,0.08,0.07,0.07,0.07,0.07,0.07,0.07,0.07,0.07],
  [2.82,2.74,2.64,2.52,2.38,2.22,2.02,1.74,1.40,1.02,0.80,0.58,0.38,0.24,0.15,0.10,0.08,0.07,0.07,0.07,0.06,0.06,0.06,0.06,0.06],
  [2.32,2.30,2.26,2.18,2.06,1.90,1.68,1.44,1.18,0.98,0.82,0.64,0.46,0.30,0.18,0.12,0.09,0.08,0.08,0.08,0.08,0.08,0.08,0.08,0.08],
  [2.58,2.52,2.46,2.38,2.26,2.10,1.90,1.62,1.30,1.00,0.78,0.56,0.36,0.20,0.10,0.06,0.04,0.03,0.03,0.03,0.03,0.03,0.03,0.03,0.03]
];

// Piecewise linear regression per cluster: [T, Q/Q(8 °C)]
const regression0 = [[-0.45, 1.09], [22.3, 0.905]];
const regression1 = [[-0.45, 1.51], [8, 1.0], [17, 0.47], [22.3, 0.39]];
const regression2 = [[-0.4, 1.82], [16.3, 0.23], [22.2, 0.12]];
const regression3 = [[-0.4, 2.62], [12.9, 0.28], [22.1, 0.05]];

// "Linear regression" annotation: label anchor, arrow tail and arrow tip
const annotation0 = {tx: 13.05, ty: 1.91, x1: 12.9, y1: 1.77, x2: 11.35, y2: 1.04};
const annotation1 = {tx: 13.05, ty: 1.74, x1: 12.9, y1: 1.57, x2: 11.38, y2: 0.87};
const annotation2 = {tx: 13.05, ty: 1.63, x1: 12.99, y1: 1.47, x2: 11.37, y2: 0.77};
const annotation3 = {tx: 13.06, ty: 1.47, x1: 12.93, y1: 1.31, x2: 11.44, y2: 0.61};

const titles = ["Working days, Cluster 0", "Working days, Cluster 1", "Working days, Cluster 2", "Working days, Cluster 3"];

const FONT = '"Liberation Sans", Arial, sans-serif';
const GRID = "#cccccc";
const X_DOMAIN = [-1, 23.25];
const Y_DOMAIN = [0, 3];
const PLOT_W = 561, PLOT_H = 344;

// Filled arrowhead whose tip sits at the symbol origin, pointing up
const arrowHead = {
  draw(ctx, size) {
    const s = Math.sqrt(size);
    ctx.moveTo(0, 0);
    ctx.lineTo(-0.42 * s, s);
    ctx.lineTo(0.42 * s, s);
    ctx.closePath();
  }
};

function toRows(lines) {
  const rows = [];
  lines.forEach((vals, k) => vals.forEach((v, j) => {
    if (v != null) rows.push({t: temps[j], q: v, k, color: palette[k % palette.length]});
  }));
  return rows;
}

// Shaft that stops inside the head, plus the head's rotation in screen space
function arrowGeometry(a) {
  const kx = PLOT_W / (X_DOMAIN[1] - X_DOMAIN[0]);
  const ky = PLOT_H / (Y_DOMAIN[1] - Y_DOMAIN[0]);
  const dx = (a.x2 - a.x1) * kx, dy = -(a.y2 - a.y1) * ky;
  const len = Math.hypot(dx, dy);
  const ux = dx / len, uy = dy / len;
  const back = 12;
  return {
    shaft: {x1: a.x1, y1: a.y1, x2: a.x2 - ux * back / kx, y2: a.y2 + uy * back / ky},
    angle: Math.atan2(dx, -dy) * 180 / Math.PI
  };
}

function panel({lines, reg, ann, title, left, top, showY}) {
  const marginLeft = showY ? 76 : 20;
  const marginTop = 16;
  const marginBottom = 40;
  const geo = arrowGeometry(ann);
  const chart = Plot.plot({
    width: marginLeft + PLOT_W + 2,
    height: marginTop + PLOT_H + marginBottom,
    marginLeft, marginRight: 2, marginTop, marginBottom,
    x: {domain: X_DOMAIN},
    y: {domain: Y_DOMAIN, axis: showY ? undefined : null},
    color: {type: "identity"},
    style: {fontFamily: FONT, fontSize: "19px", color: "#262626", background: "transparent", overflow: "visible"},
    marks: [
      Plot.gridX(xTicks, {stroke: GRID, strokeOpacity: 1, strokeWidth: 1.5}),
      Plot.gridY(yTicks, {stroke: GRID, strokeOpacity: 1, strokeWidth: 1.5}),
      Plot.frame({stroke: GRID, strokeWidth: 1.5}),
      Plot.line(toRows(lines), {x: "t", y: "q", z: "k", stroke: "color", strokeWidth: 2, clip: true}),
      Plot.line(reg, {x: d => d[0], y: d => d[1], stroke: "black", strokeWidth: 5, strokeDasharray: "18,8", clip: true}),
      Plot.link([geo.shaft], {x1: "x1", y1: "y1", x2: "x2", y2: "y2", stroke: "black", strokeWidth: 4.5}),
      Plot.dot([ann], {x: "x2", y: "y2", symbol: arrowHead, r: 9, fill: "black", stroke: null, rotate: geo.angle}),
      Plot.text([ann], {x: "tx", y: "ty", text: () => "Linear regression", textAnchor: "start", fontSize: 20, fill: "#262626"}),
      Plot.text([title], {frameAnchor: "top", dx: -14, dy: 24, text: d => d, fontSize: 17.5, fill: "#262626"}),
      Plot.axisX(xTicks, {tickSize: 0, tickPadding: 11, label: null, fontSize: 19}),
      showY ? Plot.axisY(yTicks, {tickSize: 0, tickPadding: 12, tickFormat: d3.format(".1f"), label: null, fontSize: 19}) : null
    ]
  });
  chart.classList.add("panel");
  chart.style.left = `${left}px`;
  chart.style.top = `${top}px`;
  return chart;
}

const root = document.getElementById("root");
root.append(
  panel({lines: cluster0, reg: regression0, ann: annotation0, title: titles[0], left: 0, top: 0, showY: true}),
  panel({lines: cluster1, reg: regression1, ann: annotation1, title: titles[1], left: 637, top: 0, showY: false}),
  panel({lines: cluster2, reg: regression2, ann: annotation2, title: titles[2], left: 0, top: 396, showY: true}),
  panel({lines: cluster3, reg: regression3, ann: annotation3, title: titles[3], left: 637, top: 396, showY: false})
);

// Axis titles with subscripts
function label(cls, html, x, y) {
  const el = document.createElement("div");
  el.className = cls;
  el.innerHTML = html;
  el.style.left = `${x}px`;
  el.style.top = `${y}px`;
  root.append(el);
}
const yTitle = "Q<sub>wd</sub> / Q<sub>wd</sub> (8 °C)";
const xTitle = "T<sub>amb, wd</sub> in °C";
label("ylab", yTitle, 22, 198);
label("ylab", yTitle, 22, 592);
label("xlab", xTitle, 357, 797);
label("xlab", xTitle, 938, 797);
</script>
</body>
</html>
